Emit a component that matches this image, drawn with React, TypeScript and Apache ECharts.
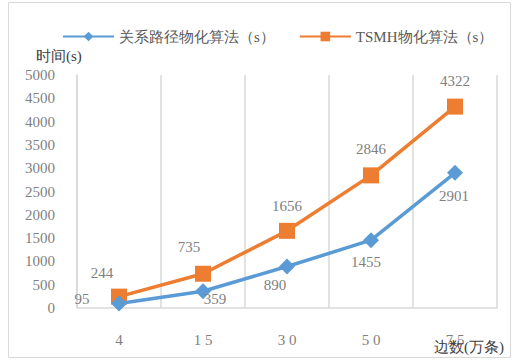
import React, { useEffect, useRef } from "react";
import * as echarts from "echarts";

const categories = ["4", "1 5", "3 0", "5 0", "7 5"];
const relationPath = [95, 359, 890, 1455, 2901];
const tsmh = [244, 735, 1656, 2846, 4322];
const seriesNames = ["关系路径物化算法（s）", "TSMH物化算法（s）"];
const yAxisTitle = "时间(s)";
const xAxisTitle = "边数(万条)";

const FONT = "Liberation Serif";
const GRAY = "#7f7f7f";

// per-point label nudges, in pixels relative to the point
const blueLabelOffsets = [
  [-37, -5],
  [12, 8],
  [-12, 18],
  [-5, 22],
  [-1, 23],
];
const orangeLabelOffsets = [
  [-17, -24],
  [-14, -27],
  [0, -25],
  [0, -26],
  [0, -26],
];

export default function App() {
  const ref = useRef<HTMLDivElement>(null);

  useEffect(() => {
    if (!ref.current) return;
    const chart = echarts.init(ref.current, null, { renderer: "svg" });
    const labelBase = {
      show: true,
      position: "inside",
      color: GRAY,
      fontSize: 15,
      fontFamily: FONT,
    };
    chart.setOption({
      animation: false,
      backgroundColor: "#ffffff",
      textStyle: { fontFamily: FONT },
      grid: { left: 77, right: 24, top: 75, bottom: 54, containLabel: false },
      legend: {
        top: 24,
        left: 57,
        itemWidth: 51,
        itemHeight: 12,
        itemGap: 24,
        textStyle: { fontFamily: FONT, fontSize: 15, color: "#595959" },
        data: seriesNames,
      },
      graphic: [
        {
          type: "rect",
          shape: { x: 8.5, y: 2.5, width: 502, height: 355 },
          style: { fill: "none", stroke: "#d9d9d9", lineWidth: 1 },
          silent: true,
        },
        {
          type: "text",
          left: 36,
          top: 48,
          style: { text: yAxisTitle, font: `15px ${FONT}`, fill: "#404040" },
        },
        {
          type: "text",
          left: 434,
          top: 339,
          z: 10,
          style: { text: xAxisTitle, font: `15px ${FONT}`, fill: "#404040" },
        },
      ],
      xAxis: {
        type: "category",
        data: categories,
        boundaryGap: true,
        axisLine: { show: true, lineStyle: { color: "#d9d9d9", width: 1.5 } },
        axisTick: { show: false },
        axisLabel: { color: GRAY, fontSize: 15, margin: 24, fontFamily: FONT },
        splitLine: { show: true, lineStyle: { color: "#d9d9d9", width: 1.5 } },
      },
      yAxis: {
        type: "value",
        min: 0,
        max: 5000,
        interval: 500,
        axisLine: { show: true, lineStyle: { color: "#d9d9d9", width: 1.5 } },
        axisTick: { show: false },
        axisLabel: {
          color: GRAY,
          fontSize: 15,
          margin: 22,
          fontFamily: FONT,
          formatter: (v: number) => String(v),
        },
        splitLine: { show: false },
      },
      series: [
        {
          name: seriesNames[0],
          type: "line",
          data: relationPath.map((v, i) => ({
            value: v,
            label: { offset: blueLabelOffsets[i] },
          })),
          symbol: "diamond",
          symbolSize: 16,
          lineStyle: { color: "#5b9bd5", width: 3.5 },
          itemStyle: { color: "#5b9bd5" },
          label: labelBase,
          z: 3,
        },
        {
          name: seriesNames[1],
          type: "line",
          data: tsmh.map((v, i) => ({
            value: v,
            label: { offset: orangeLabelOffsets[i] },
          })),
          symbol: "rect",
          symbolSize: 16,
          lineStyle: { color: "#ed7d31", width: 3.5 },
          itemStyle: { color: "#ed7d31" },
          label: labelBase,
          z: 2,
        },
      ],
    });
    return () => chart.dispose();
  }, []);

  return (
    <div
      ref={ref}
      style={{ position: "fixed", left: 0, top: 0, width: 521, height: 362 }}
    />
  );
}
